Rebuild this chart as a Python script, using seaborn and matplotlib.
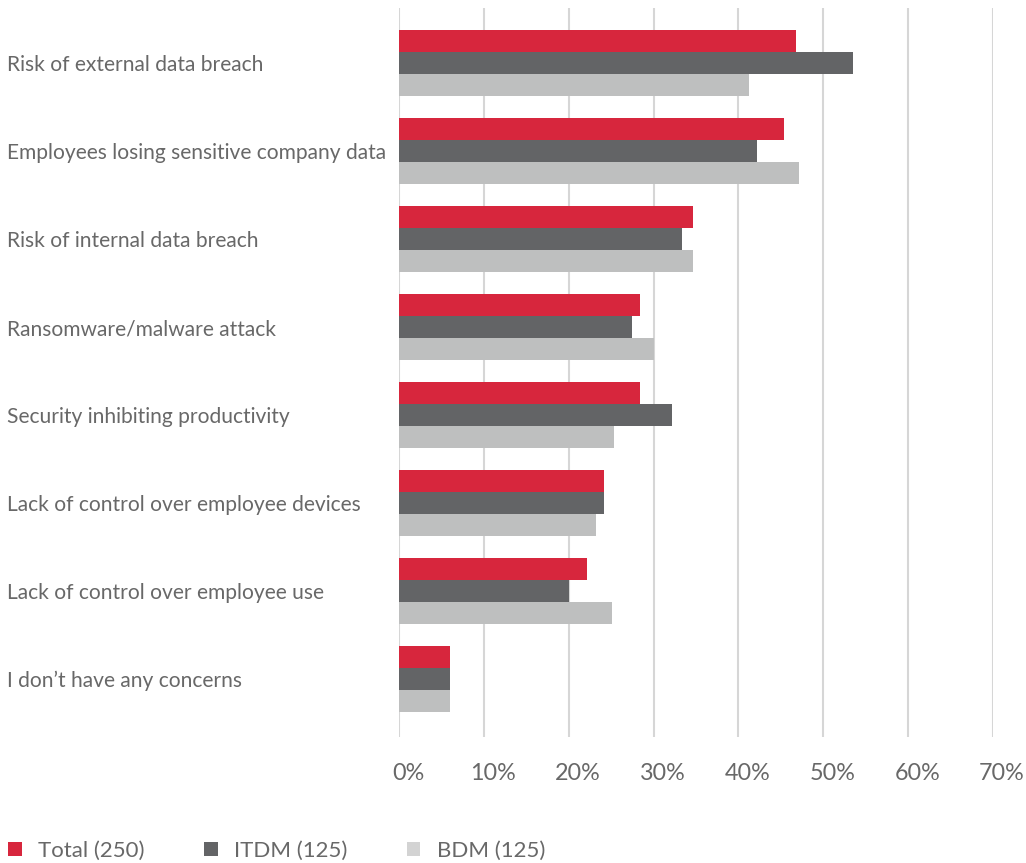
import matplotlib
matplotlib.use("Agg")
import matplotlib.pyplot as plt
from matplotlib.patches import Patch
from matplotlib.ticker import FuncFormatter
from matplotlib.transforms import ScaledTranslation
import seaborn as sns
import pandas as pd

categories = [
    "Risk of external data breach",
    "Employees losing sensitive company data",
    "Risk of internal data breach",
    "Ransomware/malware attack",
    "Security inhibiting productivity",
    "Lack of control over employee devices",
    "Lack of control over employee use",
    "I don\u2019t have any concerns",
]
series_names = ["Total (250)", "ITDM (125)", "BDM (125)"]
total_vals = [46.8, 45.4, 34.6, 28.4, 28.4, 24.2, 22.1, 6.0]
itdm_vals = [53.5, 42.2, 33.3, 27.4, 32.2, 24.2, 20.0, 6.0]
bdm_vals = [41.3, 47.1, 34.6, 30.1, 25.3, 23.2, 25.1, 6.0]
x_ticks = [0, 10, 20, 30, 40, 50, 60, 70]

colors = ["#D7263D", "#636466", "#BEBFBF"]
legend_colors = ["#D7263D", "#636466", "#D3D3D3"]
text_color = "#686868"

rows = []
for name, vals in zip(series_names, [total_vals, itdm_vals, bdm_vals]):
    for cat, v in zip(categories, vals):
        rows.append({"category": cat, "series": name, "value": v})
df = pd.DataFrame(rows)

sns.set_theme(style="white")
plt.rcParams["font.family"] = ["Lato", "DejaVu Sans"]

W, H = 1026, 863
fig = plt.figure(figsize=(W / 100, H / 100), dpi=100)
left, right, top, bottom = 399, 993, 8, 737
ax = fig.add_axes([left / W, 1 - bottom / H, (right - left) / W, (bottom - top) / H])

sns.barplot(data=df, y="category", x="value", hue="series", order=categories,
            hue_order=series_names, palette=colors, orient="h", width=0.75,
            saturation=1, linewidth=0, ax=ax, legend=False)

ax.set_xlim(0, 70)
ax.set_ylim(7.66, -0.63)
ax.set_xticks(x_ticks)
ax.xaxis.set_major_formatter(FuncFormatter(lambda v, p: f"{v:.0f}%"))
ax.grid(axis="x", color="#d6d6d6", linewidth=1.5)
ax.grid(axis="y", visible=False)
ax.set_axisbelow(True)
for s in ax.spines.values():
    s.set_visible(False)
ax.set_xlabel("")
ax.set_ylabel("")

ax.tick_params(axis="x", length=0, pad=19, labelsize=16.8, labelcolor=text_color)
ax.tick_params(axis="y", length=0, pad=(left - 7) * 0.72, labelsize=15.1, labelcolor=text_color)
for lbl in ax.get_yticklabels():
    lbl.set_horizontalalignment("left")
shift = ScaledTranslation(0.09, 0, fig.dpi_scale_trans)
for lbl in ax.get_xticklabels():
    lbl.set_transform(lbl.get_transform() + shift)

handles = [Patch(facecolor=c, edgecolor="none") for c in legend_colors]
leg = fig.legend(handles, series_names, loc="center left",
                 bbox_to_anchor=(8 / W, 1 - 851 / H), ncol=3, frameon=False,
                 handlelength=0.62, handleheight=0.62, handletextpad=0.75,
                 columnspacing=2.65, borderaxespad=0, borderpad=0,
                 prop={"size": 16})
for t in leg.get_texts():
    t.set_color(text_color)

fig.savefig("out.png", dpi=100, facecolor="white")
